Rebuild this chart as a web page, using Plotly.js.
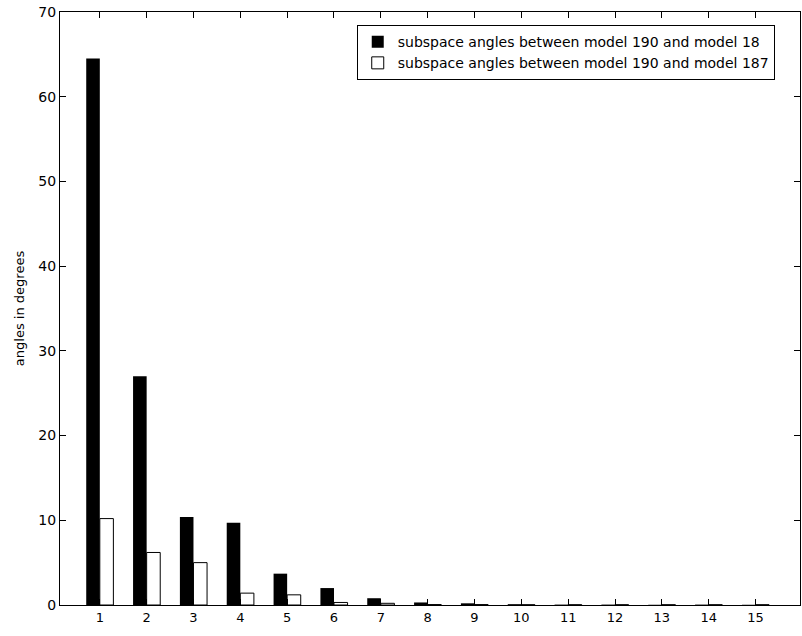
<!DOCTYPE html>
<html><head><meta charset="utf-8">
<script src="https://cdn.plot.ly/plotly-3.0.1.min.js"></script>
<style>body{margin:0;background:#fff}#c{width:802px;height:636px}</style>
</head><body><div id="c"></div>
<script>
const categories = [1,2,3,4,5,6,7,8,9,10,11,12,13,14,15];
const angles18  = [64.5, 27.0, 10.4, 9.7, 3.7, 2.0, 0.8, 0.3, 0.2, 0.1, 0.05, 0.05, 0.03, 0.05, 0.03];
const angles187 = [10.2, 6.2, 5.0, 1.4, 1.2, 0.3, 0.2, 0.05, 0.05, 0.03, 0.03, 0.03, 0.03, 0.03, 0.03];
const seriesNames = ['subspace angles between model 190 and model 18','subspace angles between model 190 and model 187'];
const yTicks = [0,10,20,30,40,50,60,70];

const fam = 'DejaVu Sans, Liberation Sans, Arial, sans-serif';
const traces = [
 {type:'bar', x:categories, y:angles18, name:seriesNames[0],
  marker:{color:'#000', line:{color:'#000', width:0}}},
 {type:'bar', x:categories, y:angles187, name:seriesNames[1],
  marker:{color:'#fff', line:{color:'#000', width:1}}}
];
const layout = {
 width:802, height:636,
 margin:{l:60, r:2, t:12, b:31},
 paper_bgcolor:'#fff', plot_bgcolor:'#fff',
 barmode:'group', bargap:0.42, bargroupgap:0,
 font:{family:fam, size:13, color:'#000'},
 showlegend:true,
 legend:{x:0.401, xanchor:'left', y:0.978, yanchor:'top', bgcolor:'#fff',
   bordercolor:'#000', borderwidth:1, font:{family:fam, size:14},
   tracegroupgap:0, itemwidth:30},
 xaxis:{range:[0.15,15.95], tickvals:categories, ticktext:categories.map(String),
   ticks:'inside', ticklen:6, tickcolor:'#000', showline:true, linecolor:'#000', linewidth:1,
   mirror:'ticks', showgrid:false, zeroline:false, tickfont:{family:fam, size:13}},
 yaxis:{range:[0,70], tickvals:yTicks, ticks:'inside', ticklen:6, tickcolor:'#000',
   showline:true, linecolor:'#000', linewidth:1, mirror:'ticks', showgrid:false,
   zeroline:true, zerolinecolor:'#777', zerolinewidth:1,
   tickfont:{family:fam, size:14}, title:{text:'angles in degrees', font:{family:fam, size:13}, standoff:10}}
};
Plotly.newPlot('c', traces, layout, {displayModeBar:false, staticPlot:true});
</script></body></html>
